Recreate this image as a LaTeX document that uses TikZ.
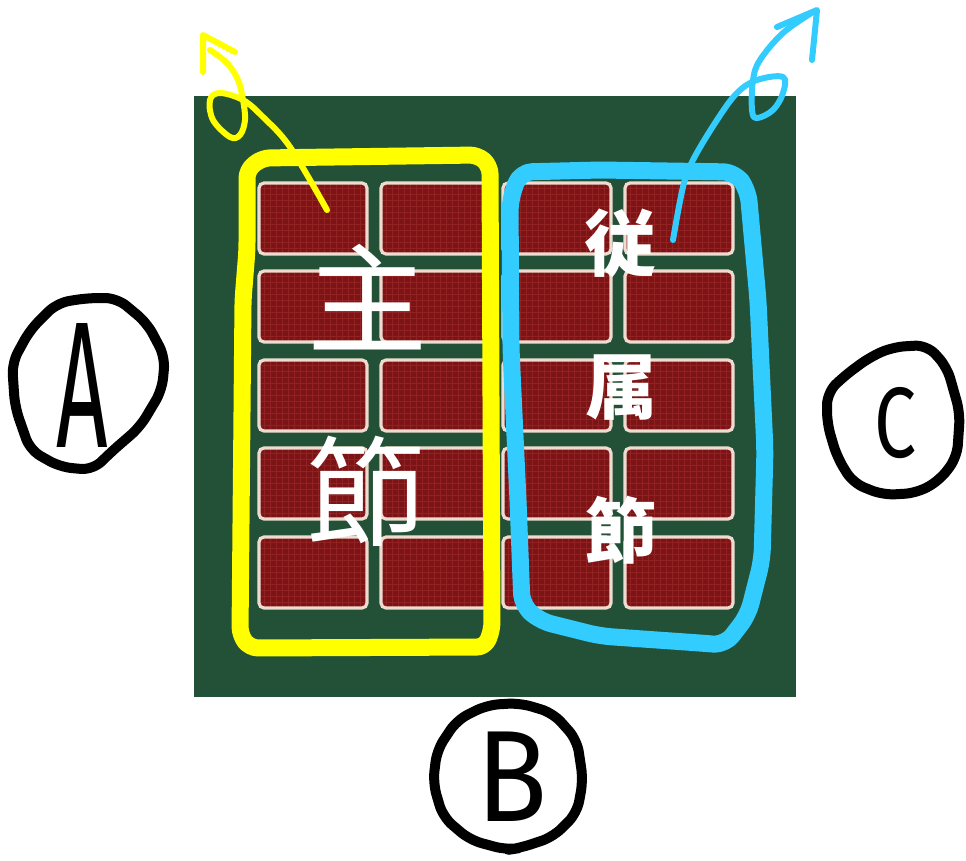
\documentclass[tikz,border=0pt]{standalone}
\usepackage{fontspec}
\newfontfamily\jp{Noto Sans CJK JP}
\newfontfamily\hand{Fira Sans}
\definecolor{bggreen}{RGB}{34,81,55}
\definecolor{cellred}{RGB}{122,20,22}
\definecolor{gridred}{RGB}{146,34,34}
\definecolor{cellborder}{RGB}{238,220,208}
\definecolor{hlyellow}{RGB}{255,255,0}
\definecolor{hlblue}{RGB}{51,204,255}
\tikzset{
  bigtext/.style={text=white, inner sep=0pt, font=\jp\fontsize{120}{120}\selectfont},
  smalltext/.style={text=white, inner sep=0pt, font=\jp\bfseries\fontsize{72}{72}\selectfont},
  yellowline/.style={draw=hlyellow, line width=17, line cap=round, line join=round},
  blueline/.style={draw=hlblue, line width=17, line cap=round, line join=round},
  yarrow/.style={draw=hlyellow, line width=6, line cap=round, line join=round},
  barrow/.style={draw=hlblue, line width=6, line cap=round, line join=round},
  ring/.style={draw=black, line width=10, line cap=round, line join=round, rounded corners=12},
  letter/.style={text=black, inner sep=0pt}
}
\begin{document}
\begin{tikzpicture}[x=1pt,y=-1pt]
\useasboundingbox (0,0) rectangle (966,860);
\fill[bggreen] (194,96) rectangle (796,697);
% cells
\foreach \cx in {259,381,503,625}{
  \foreach \cy in {183,271,360,448,537}{
    \begin{scope}
      \clip[rounded corners=5] (\cx,\cy) rectangle ++(108,71);
      \fill[cellred] (\cx,\cy) rectangle ++(108,71);
      \foreach \g in {5,11,...,104} \draw[gridred, line width=0.8] (\cx+\g,\cy) -- ++(0,71);
      \foreach \g in {5,11,...,69} \draw[gridred, line width=0.8] (\cx,\cy+\g) -- ++(108,0);
    \end{scope}
    \draw[cellborder, line width=3.2, rounded corners=5] (\cx,\cy) rectangle ++(108,71);
  }
}
% texts
\node[bigtext] (zhu) at (367,297) {主};
\node[bigtext] (jie) at (366,491) {節};
\node[smalltext] (cong) at (620,243) {従};
\node[smalltext] (shu) at (621,388) {属};
\node[smalltext] (jie2) at (621,530) {節};
% yellow highlight
\draw[yellowline, rounded corners=8] (247,250) -- (247,170) -- (262,158) -- (478,155) -- (490,166) -- (492,630) -- (485,647) -- (250,648) -- (240,635) -- (243,300) -- cycle;
% blue highlight
\draw[blueline, rounded corners=12] (510,200) -- (520,172) -- (600,170) -- (735,172) -- (748,190) -- (758,300) -- (765,450) -- (762,560) -- (748,615) -- (725,645) -- (700,643) -- (600,636) -- (540,621) -- (522,605) -- (518,500) -- (511,350) -- cycle;
% yellow arrow
\coordinate (ytail) at (327,210);
\coordinate (yend) at (210,50);
\coordinate (ytip) at (203,35);
\coordinate (yh1) at (203,72);
\coordinate (yh2) at (235,52);
\draw[yarrow] plot[smooth, tension=0.6] coordinates {(327,210) (290,147) (263,117) (243,100) (220,93) (210,100) (213,120) (230,137) (240,135) (245,120) (243,100) (238,80) (227,63) (210,50)};
\draw[yarrow] (yh1) -- (ytip) -- (yh2);
% blue arrow
\coordinate (btail) at (673,240);
\coordinate (btip) at (817,10);
\coordinate (bh1) at (777,27);
\coordinate (bh2) at (812,60);
\draw[barrow] plot[smooth, tension=0.6] coordinates {(673,240) (683,187) (693,160) (717,120) (737,93) (757,80) (783,77) (783,93) (773,110) (757,118) (752,110) (753,80) (760,60) (783,33) (813,12)};
\draw[barrow] (bh1) -- (btip) -- (bh2);
% circled letters
\draw[ring] (117,298)--(147,323)--(165,357)--(162,390)--(140,427)--(110,453)--(93,470)--(60,467)--(30,450)--(15,407)--(12,363)--(30,330)--(57,303)--(87,298)--cycle;
\node[letter, font=\hand\fontsize{180}{180}\selectfont, xscale=0.5] (A) at (82,385) {A};
\draw[ring] (927,345)--(947,367)--(960,413)--(957,457)--(940,480)--(917,493)--(883,495)--(853,483)--(837,457)--(827,423)--(827,393)--(843,377)--(870,357)--(893,347)--cycle;
\node[letter, font=\hand\fontsize{100}{100}\selectfont, xscale=0.75] (C) at (895,423) {C};
\draw[ring] (520,703)--(553,713)--(577,740)--(583,780)--(577,813)--(553,837)--(520,848)--(507,850)--(470,840)--(443,817)--(433,783)--(437,750)--(457,720)--(487,705)--cycle;
\node[letter, font=\hand\fontsize{130}{130}\selectfont, xscale=0.9] (B) at (512,777) {B};
\end{tikzpicture}
\end{document}
